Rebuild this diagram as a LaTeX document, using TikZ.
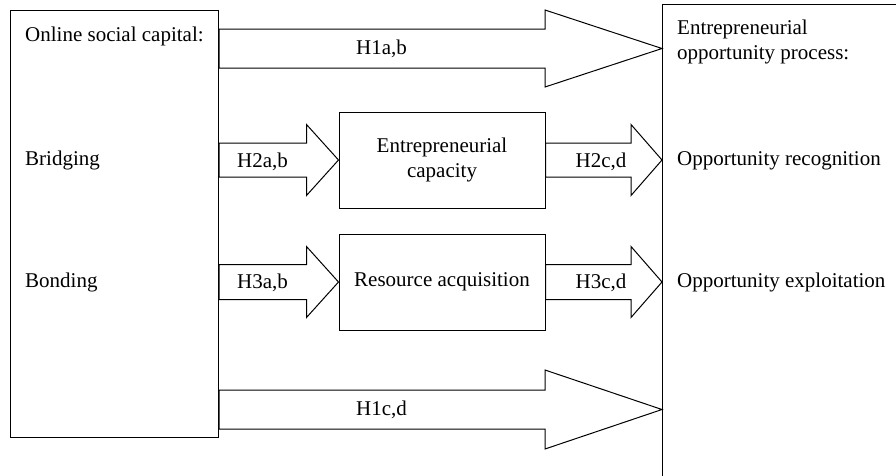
\documentclass[tikz,border=0pt]{standalone}
\usepackage{fontspec}
\setmainfont{Liberation Serif}
\usetikzlibrary{calc}

\tikzset{
  box/.style={draw, line width=1pt, inner sep=0pt, anchor=north west},
  txt/.style={inner sep=0pt, anchor=base west},
  lbl/.style={inner sep=0pt, anchor=base},
  fatarrow/.style={draw, fill=white, line width=1pt, line join=miter}
}

% block arrow: from, to, shaft half width, head half width, head length
\newcommand{\fatarrow}[5]{%
  \path (#1) coordinate (fa-s) (#2) coordinate (fa-e);
  \draw[fatarrow] ($(fa-s)+(0,#3)$) -- ($(fa-e)+(-#5,#3)$) -- ($(fa-e)+(-#5,#4)$)
    -- (fa-e) -- ($(fa-e)+(-#5,-#4)$) -- ($(fa-e)+(-#5,-#3)$) -- ($(fa-s)+(0,-#3)$) -- cycle;}

\begin{document}
\begin{tikzpicture}[x=1pt, y=-1pt, every node/.style={font=\fontsize{21}{24.5}\selectfont}]
    \useasboundingbox (0,0) rectangle (896,475);
    \clip (0,0) rectangle (896,475);

    % boxes
    \node[box, minimum width=208, minimum height=427.5] (osc) at (10,9.5) {};
    \node[box, minimum width=260, minimum height=500] (eop) at (662,3.5) {};
    \node[box, minimum width=206, minimum height=96, anchor=center, align=center] (ec) at (442,160) {Entrepreneurial\\capacity};
    \node[box, minimum width=206, minimum height=96, anchor=center] (ra) at (442,282) {Resource acquisition};

    % rows
    \coordinate (r1) at (0,48.5);
    \coordinate (r2) at (0,160);
    \coordinate (r3) at (0,282);
    \coordinate (r4) at (0,409.5);

    % arrows
    \fatarrow{osc.east |- r1}{eop.west |- r1}{19.5}{38.5}{117}
    \fatarrow{osc.east |- r2}{ec.west}{17}{35.5}{32}
    \fatarrow{ec.east}{eop.west |- r2}{17}{35.5}{31}
    \fatarrow{osc.east |- r3}{ra.west}{17.5}{35.5}{32}
    \fatarrow{ra.east}{eop.west |- r3}{17.5}{35.5}{31}
    \fatarrow{osc.east |- r4}{eop.west |- r4}{19.5}{39.5}{117}

    % arrow labels
    \node[lbl] (h1ab) at (381.5,54.3) {H1a,b};
    \node[lbl] (h2ab) at (262.5,167.7) {H2a,b};
    \node[lbl] (h2cd) at (601,167.7) {H2c,d};
    \node[lbl] (h3ab) at (262.5,288) {H3a,b};
    \node[lbl] (h3cd) at (601,288) {H3c,d};
    \node[lbl] (h1cd) at (381.5,415.7) {H1c,d};

    % box texts
    \node[txt] (osctitle) at (25,41) {Online social capital:};
    \node[txt] (bridging) at (25,165) {Bridging};
    \node[txt] (bonding) at (25,287) {Bonding};
    \node[txt] (eoptitle) at (677,34) {Entrepreneurial};
    \node[txt] (eoptitle2) at (677,59) {opportunity process:};
    \node[txt] (recog) at (677,165) {Opportunity recognition};
    \node[txt] (exploit) at (677,287) {Opportunity exploitation};
\end{tikzpicture}
\end{document}
